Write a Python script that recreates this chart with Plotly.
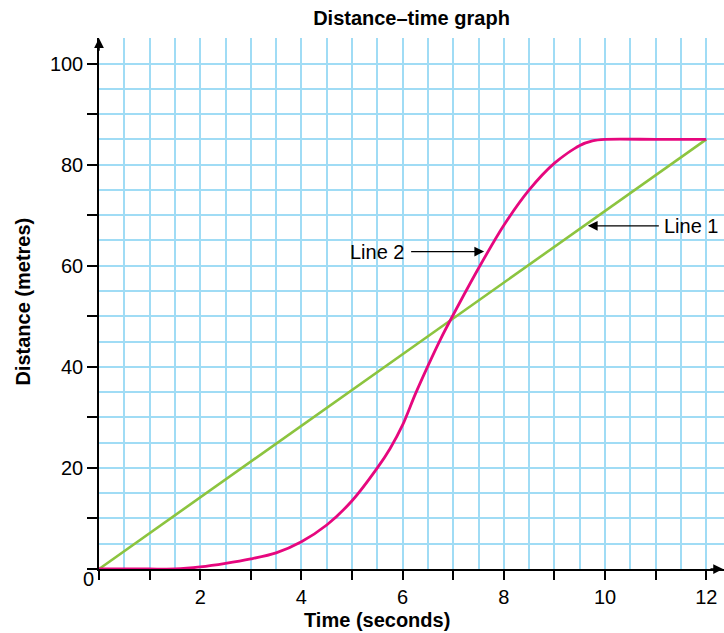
import plotly.graph_objects as go

# ---- data ----
line1_time = [0, 12]
line1_distance = [0, 85]

line2_time = [0, 0.5, 1, 1.5, 2, 2.5, 3, 3.5, 4, 4.5, 5, 5.5, 5.75, 6, 6.25, 6.5, 6.75, 7,
              7.5, 8, 8.5, 9, 9.5, 9.75, 10, 11, 12]
line2_distance = [0, 0, 0, 0, 0.4, 1.1, 2, 3.2, 5.4, 8.7, 13.5, 20, 23.8, 28.5, 34.6, 40.2, 45.5, 50.3,
                  59.5, 68, 75, 80.3, 83.8, 84.7, 85, 85, 85]

x_tick_vals = list(range(0, 13))
x_tick_text = ["", "", "2", "", "4", "", "6", "", "8", "", "10", "", "12"]
y_tick_vals = list(range(0, 101, 10))
y_tick_text = ["", "", "20", "", "40", "", "60", "", "80", "", "100"]

FONT = "Liberation Sans, Arial, Helvetica, sans-serif"
GRID = "#a0dcf5"
GREEN = "#8cc43f"
PINK = "#e6077e"

fig = go.Figure()
fig.add_trace(go.Scatter(x=line1_time, y=line1_distance, mode="lines",
                         line=dict(color=GREEN, width=2.6), cliponaxis=False,
                         name="Line 1", showlegend=False))
fig.add_trace(go.Scatter(x=line2_time, y=line2_distance, mode="lines",
                         line=dict(color=PINK, width=2.8, shape="spline", smoothing=0.8),
                         cliponaxis=False, name="Line 2", showlegend=False))

fig.update_layout(
    width=724, height=633,
    margin=dict(l=99, r=0, t=38, b=64),
    paper_bgcolor="white", plot_bgcolor="white",
    font=dict(family=FONT, size=20, color="black"),
    title=dict(text="<b>Distance–time graph</b>", x=0.5, xref="paper",
               y=1 - 18 / 633, yref="container", yanchor="middle", xanchor="center",
               font=dict(family=FONT, size=20, color="black")),
    xaxis=dict(range=[0, 12.35], tickvals=x_tick_vals, ticktext=x_tick_text,
               ticks="outside", ticklen=9, tickwidth=1.5, tickcolor="black",
               showline=True, linecolor="black", linewidth=1.5,
               showgrid=True, gridcolor=GRID, gridwidth=1.5,
               minor=dict(dtick=0.5, showgrid=True, gridcolor=GRID, gridwidth=1.5),
               zeroline=False, layer="below traces", automargin=False,
               tickfont=dict(family=FONT, size=20)),
    yaxis=dict(range=[0, 105.05], tickvals=y_tick_vals, ticktext=y_tick_text,
               ticks="outside", ticklen=10, tickwidth=1.5, tickcolor="black",
               showline=True, linecolor="black", linewidth=1.5,
               showgrid=True, gridcolor=GRID, gridwidth=1.5,
               minor=dict(dtick=5, showgrid=True, gridcolor=GRID, gridwidth=1.5),
               zeroline=False, layer="below traces", automargin=False,
               tickfont=dict(family=FONT, size=20)),
)

annotations = [
    # axis arrowheads
    dict(x=12.33, y=0, xref="x", yref="y", ax=-14, ay=0, text="", showarrow=True,
         arrowhead=2, arrowsize=1.3, arrowwidth=1.5, arrowcolor="black"),
    dict(x=0, y=105, xref="x", yref="y", ax=0, ay=14, text="", showarrow=True,
         arrowhead=2, arrowsize=1.3, arrowwidth=1.5, arrowcolor="black"),
    # origin label
    dict(x=0, y=0, xref="x", yref="y", text="0", showarrow=False,
         xshift=-11, yshift=-10, font=dict(family=FONT, size=20)),
    # axis titles
    dict(x=5.5, y=0, xref="x", yref="paper", text="<b>Time (seconds)</b>", showarrow=False,
         yshift=-51, yanchor="middle", font=dict(family=FONT, size=20)),
    dict(x=0, y=52.9, xref="paper", yref="y", text="<b>Distance (metres)</b>", showarrow=False,
         textangle=-90, xshift=-76, xanchor="center", font=dict(family=FONT, size=20)),
    # line labels
    dict(x=7.63, y=62.8, xref="x", yref="y", text="Line 2", showarrow=True,
         ax=-108, ay=0, arrowhead=2, arrowsize=1.5, arrowwidth=1.3, arrowcolor="black",
         standoff=1, startstandoff=5, font=dict(family=FONT, size=20)),
    dict(x=9.64, y=67.9, xref="x", yref="y", text="Line 1", showarrow=True,
         ax=105, ay=0, arrowhead=2, arrowsize=1.5, arrowwidth=1.3, arrowcolor="black",
         standoff=1, startstandoff=4, font=dict(family=FONT, size=20)),
]
fig.update_layout(annotations=annotations)

fig.write_html("out.html", config={"displayModeBar": False},
               post_script="document.body.style.margin='0px';")
